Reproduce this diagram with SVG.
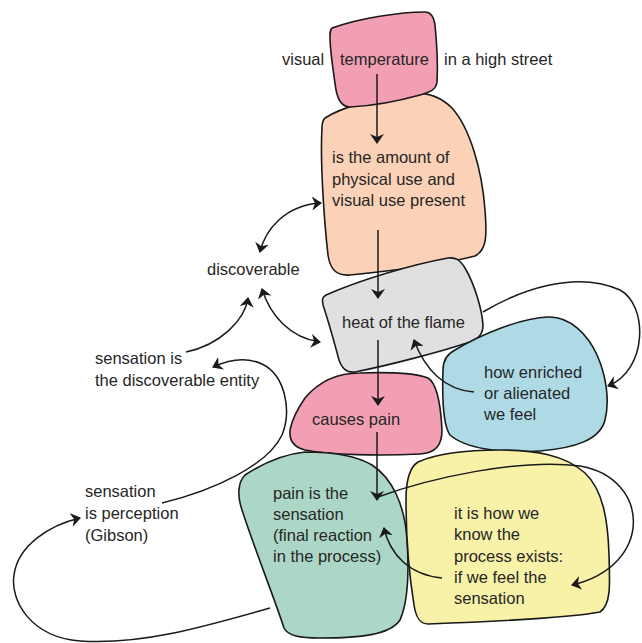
<svg xmlns="http://www.w3.org/2000/svg" width="642" height="643" viewBox="0 0 642 643">
<style>
.shape{stroke:#1a1a1a;stroke-width:1.6;stroke-linejoin:round}
.t{font-family:"Liberation Sans",Arial,sans-serif;font-size:16.5px;fill:#262626}
.c{fill:none;stroke:#1a1a1a;stroke-width:1.5}
</style>
<defs>
<marker id="ah" viewBox="0 0 10 14" refX="9" refY="7" markerWidth="10" markerHeight="14" markerUnits="userSpaceOnUse" orient="auto-start-reverse">
<path d="M10,7 L0,0 L3,7 L0,14 Z" fill="#1a1a1a"/>
</marker>
</defs>
<rect width="642" height="643" fill="#ffffff"/>

<g id="peach">
<path class="shape" fill="#fbd2b8" d="M325,118 C340,108 380,96 410,93 C425,92 440,96 452,108 C470,128 482,170 485,210 C487,235 487,250 475,256 C440,265 380,272 350,275 C335,276 330,268 328,255 C324,220 320,160 322,128 C322,122 323,120 325,118 Z"/>
<text class="t" x="332" y="163">is the amount of</text>
<text class="t" x="332" y="185">physical use and</text>
<text class="t" x="332" y="206">visual use present</text>
</g>

<g id="temperature">
<path class="shape" fill="#f29fb4" d="M332,28 C360,18 400,12 425,12 C432,12 434,18 435,25 C437,45 438,65 437,82 C436,90 430,92 420,95 C395,102 370,106 350,107 C342,107 338,100 336,90 C333,70 330,50 330,38 C330,32 330,30 332,28 Z"/>
<text class="t" x="282" y="65">visual</text>
<text class="t" x="340" y="65">temperature</text>
<text class="t" x="444" y="65">in a high street</text>
</g>

<g id="heat">
<path class="shape" fill="#e0e0e0" d="M326,295 C360,280 410,265 448,258 C456,257 460,260 465,268 C475,285 482,310 483,325 C483,333 480,338 470,342 C440,352 390,365 355,372 C346,373 342,368 339,360 C335,345 328,320 323,305 C322,300 322,297 326,295 Z"/>
<text class="t" x="342" y="328">heat of the flame</text>
</g>

<g id="enriched">
<path class="shape" fill="#aedae6" d="M455,350 C480,335 520,318 548,317 C570,316 588,335 597,355 C606,375 610,400 605,420 C600,440 575,448 540,451 C500,454 465,448 450,435 C443,425 442,400 443,370 C443,360 447,354 455,350 Z"/>
<text class="t" x="484" y="378">how enriched</text>
<text class="t" x="484" y="399">or alienated</text>
<text class="t" x="484" y="420">we feel</text>
</g>

<g id="pain">
<path class="shape" fill="#f29fb4" d="M305,398 C320,380 340,373 360,373 C390,372 415,373 428,378 C438,384 441,410 442,430 C442,445 436,453 420,454 C380,456 330,455 305,450 C293,447 289,440 290,430 C292,420 298,408 305,398 Z"/>
<text class="t" x="312" y="425">causes pain</text>
</g>

<g id="sensation">
<path class="shape" fill="#acd7c7" d="M245,475 C265,462 285,454 305,452 C330,452 355,455 372,465 C392,478 405,505 407,540 C409,570 409,600 400,620 C390,635 360,638 320,638 C300,638 288,636 284,628 C275,600 255,550 242,510 C237,495 238,482 245,475 Z"/>
<text class="t" x="273" y="499">pain is the</text>
<text class="t" x="273" y="520">sensation</text>
<text class="t" x="273" y="541">(final reaction</text>
<text class="t" x="273" y="562">in the process)</text>
</g>

<g id="process">
<path class="shape" fill="#f8f1a8" d="M418,462 C440,452 470,450 500,450 C535,450 565,455 585,473 C603,490 608,520 609,555 C610,585 611,605 600,612 C570,618 480,622 428,624 C420,624 416,618 414,605 C410,580 406,540 406,500 C406,480 410,467 418,462 Z"/>
<text class="t" x="454" y="519">it is how we</text>
<text class="t" x="454" y="540">know the</text>
<text class="t" x="454" y="562">process exists:</text>
<text class="t" x="454" y="583">if we feel the</text>
<text class="t" x="454" y="604">sensation</text>
</g>

<g id="discoverable">
<text class="t" x="207" y="275">discoverable</text>
</g>
<g id="entity">
<text class="t" x="95" y="364">sensation is</text>
<text class="t" x="95" y="386">the discoverable entity</text>
</g>
<g id="gibson">
<text class="t" x="85" y="497">sensation</text>
<text class="t" x="85" y="519">is perception</text>
<text class="t" x="85" y="541">(Gibson)</text>
</g>

<g id="connectors">
<path class="c" marker-end="url(#ah)" d="M377,74 L377,143"/>
<path class="c" marker-end="url(#ah)" d="M378,230 L378,298"/>
<path class="c" marker-end="url(#ah)" d="M378,340 L378,405"/>
<path class="c" marker-end="url(#ah)" d="M377,432 L377,500"/>
<path class="c" marker-start="url(#ah)" marker-end="url(#ah)" d="M260,252 C265,230 285,205 321,203"/>
<path class="c" marker-start="url(#ah)" marker-end="url(#ah)" d="M262,289 C270,315 290,338 320,342"/>
<path class="c" marker-end="url(#ah)" d="M186,352 C220,345 245,320 248,298"/>
<path class="c" marker-end="url(#ah)" d="M162,503 C215,490 268,465 282,435 C292,410 285,375 262,364 C245,356 228,360 213,367"/>
<path class="c" marker-end="url(#ah)" d="M270,608 C200,628 140,645 80,641 C30,637 10,600 14,575 C18,545 50,525 80,518"/>
<path class="c" marker-end="url(#ah)" d="M474,392 C445,390 425,370 414,340"/>
<path class="c" marker-end="url(#ah)" d="M483,312 C520,290 575,270 620,290 C648,305 648,370 608,386"/>
<path class="c" marker-end="url(#ah)" d="M378,497 C430,478 520,458 580,466 C650,478 655,565 572,585"/>
<path class="c" marker-end="url(#ah)" d="M442,578 C410,575 390,555 384,528"/>
</g>
</svg>
